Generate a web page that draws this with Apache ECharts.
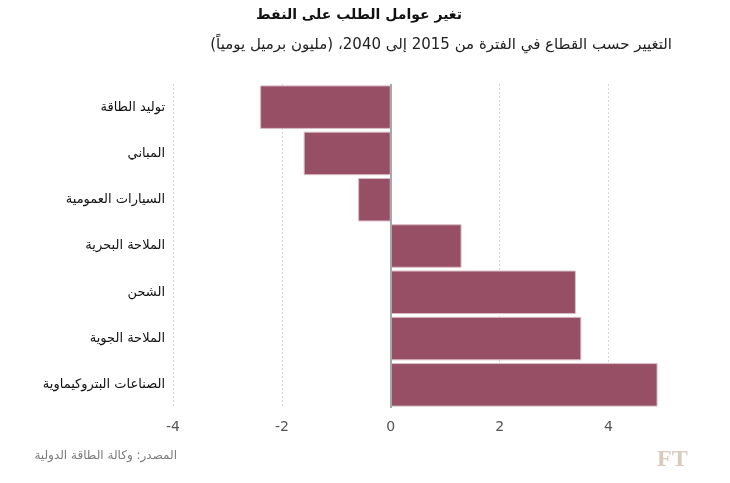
<!DOCTYPE html>
<html>
<head>
<meta charset="utf-8">
<script src="https://cdn.jsdelivr.net/npm/echarts@6/dist/echarts.min.js"></script>
<style>
html,body{margin:0;padding:0;background:#fff;}
#c{width:730px;height:483px;}
</style>
</head>
<body>
<div id="c"></div>
<script>
const RLM = "\u200F";
const categories = ["توليد الطاقة","المباني","السيارات العمومية","الملاحة البحرية","الشحن","الملاحة الجوية","الصناعات البتروكيماوية"];
const values = [-2.4, -1.6, -0.6, 1.3, 3.4, 3.5, 4.9];
const xTicks = [-4, -2, 0, 2, 4];
const titleText = "تغير عوامل الطلب على النفط";
const subtitleText = "التغيير حسب القطاع في الفترة من 2015 إلى 2040، (مليون برميل يومياً)";
const sourceText = "المصدر: وكالة الطاقة الدولية";

const chart = echarts.init(document.getElementById('c'), null, {renderer:'canvas'});
chart.setOption({
  backgroundColor:'#fff',
  animation:false,
  graphic:[
    {type:'text', x:462, y:8, style:{text:RLM+titleText+RLM, align:'right', fill:'#111', font:'bold 14px "DejaVu Sans"'}},
    {type:'text', x:672, y:38, style:{text:RLM+subtitleText+RLM, align:'right', fill:'#222', font:'15px "DejaVu Sans"'}},
    {type:'text', x:177, y:450, style:{text:RLM+sourceText+RLM, align:'right', fill:'#7a7a7a', font:'12px "DejaVu Sans"'}},
    {type:'text', x:657, y:448, style:{text:"FT", fill:'#d8cabc', font:'bold 24px "Liberation Serif"'}}
  ],
  grid:{left:173, right:67, top:84, height:324, containLabel:false},
  xAxis:{
    type:'value', min:-4, max:5, interval:2,
    axisLine:{show:false}, axisTick:{show:false},
    axisLabel:{color:'#555', fontSize:14, fontFamily:'DejaVu Sans', margin:12, showMaxLabel:false,
      formatter:v=> xTicks.includes(v) ? String(v) : ''},
    splitLine:{show:true, showMaxLine:false, lineStyle:{color:'#d6d6d6', type:[2,2], width:1}}
  },
  yAxis:{
    type:'category', data:categories, inverse:true,
    axisLine:{show:false}, axisTick:{show:false}, splitLine:{show:false},
    axisLabel:{color:'#111', fontSize:13, fontFamily:'DejaVu Sans', margin:8}
  },
  series:[{
    type:'bar', data:values, barCategoryGap:'6%',
    itemStyle:{color:'#964f65', borderColor:'#d9bcc6', borderWidth:1},
    markLine:{silent:true, symbol:'none', label:{show:false},
      lineStyle:{color:'#a8a8a8', type:'solid', width:2},
      data:[{xAxis:0}]}
  }]
});
</script>
</body>
</html>
